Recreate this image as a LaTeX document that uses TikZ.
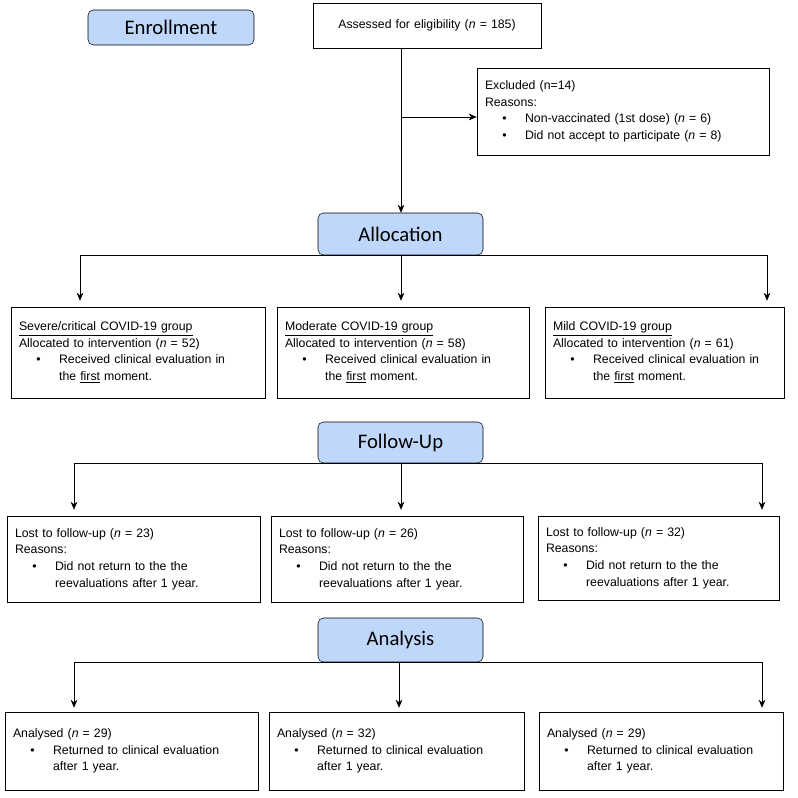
\documentclass[tikz,border=0pt]{standalone}
\usepackage{fontspec}
\setmainfont{Liberation Sans}
\newfontfamily\headfont{Carlito}
\usetikzlibrary{arrows.meta,positioning,calc}
\definecolor{headblue}{RGB}{190,215,250}
\newcommand{\bitem}[2]{\\\hspace*{13pt}\makebox[17pt][l]{\textbullet}#1\\\hspace*{30pt}#2}
\newcommand{\nn}{\textit{n}}
\begin{document}
\begin{tikzpicture}[
    x=0.0263cm, y=-0.0263cm,
    head/.style={rectangle, draw, rounded corners=4pt, fill=headblue, font=\headfont\fontsize{15.5}{17}\selectfont, minimum width=#1*0.0263cm, minimum height=40*0.0263cm},
    box/.style n args={2}{rectangle, draw, align=left, inner xsep=6pt, inner ysep=4pt, text width=#1*0.0263cm-12pt, minimum height=#2*0.0263cm, font=\fontsize{9.2}{12.4}\selectfont},
    arrow/.style={-{Stealth[length=6pt,width=5pt]}},
    line/.style={draw}
]
\useasboundingbox (0,0) rectangle (798,798);

% Enrollment
\node[head=166, minimum height=35*0.0263cm] (enroll) at (171,27.5) {Enrollment};
\node[box={228}{45}, align=center] (assess) at (427,25.5) {Assessed for eligibility (\nn{} = 185)};
\node[box={292}{87}] (excl) at (623,111.5) {Excluded (n=14)\\Reasons:\\\hspace*{13pt}\makebox[17pt][l]{\textbullet}Non-vaccinated (1st dose) (\nn{} = 6)\\\hspace*{13pt}\makebox[17pt][l]{\textbullet}Did not accept to participate (\nn{} = 8)};

% Allocation
\node[head=165, minimum height=42*0.0263cm] (alloc) at (400.5,234) {Allocation};
\node[box={254}{91}] (grp1) at (138,352.5) {\underline{Severe/critical COVID-19 group}\\Allocated to intervention (\nn{} = 52)\bitem{Received clinical evaluation in}{the \underline{first} moment.}};
\node[box={252}{91}] (grp2) at (403,352.5) {\underline{Moderate COVID-19 group}\\Allocated to intervention (\nn{} = 58)\bitem{Received clinical evaluation in}{the \underline{first} moment.}};
\node[box={239}{91}] (grp3) at (664.5,352.5) {\underline{Mild COVID-19 group}\\Allocated to intervention (\nn{} = 61)\bitem{Received clinical evaluation in}{the \underline{first} moment.}};

% Follow-up
\node[head=165, minimum height=41*0.0263cm] (follow) at (400.5,442.5) {Follow-Up};
\node[box={253}{86}] (lost1) at (133.5,559) {Lost to follow-up (\nn{} = 23)\\Reasons:\bitem{Did not return to the the}{reevaluations after 1 year.}};
\node[box={252}{86}] (lost2) at (397,559) {Lost to follow-up (\nn{} = 26)\\Reasons:\bitem{Did not return to the the}{reevaluations after 1 year.}};
\node[box={241}{84}] (lost3) at (658.5,558) {Lost to follow-up (\nn{} = 32)\\Reasons:\bitem{Did not return to the the}{reevaluations after 1 year.}};

% Analysis
\node[head=165, minimum height=44*0.0263cm] (analysis) at (400.5,640) {Analysis};
\node[box={253}{78}] (ana1) at (131.5,751) {Analysed (\nn{} = 29)\bitem{Returned to clinical evaluation}{after 1 year.}};
\node[box={255}{78}] (ana2) at (396.5,751) {Analysed (\nn{} = 32)\bitem{Returned to clinical evaluation}{after 1 year.}};
\node[box={244}{78}] (ana3) at (661,751) {Analysed (\nn{} = 29)\bitem{Returned to clinical evaluation}{after 1 year.}};

% branch points
\coordinate (ex) at (401,117);
\coordinate (al1) at (80,255);   \coordinate (al2) at (401,255);   \coordinate (al3) at (767,255);
\coordinate (fo1) at (74,463);   \coordinate (fo2) at (401,463);   \coordinate (fo3) at (762,463);
\coordinate (an1) at (74,662);   \coordinate (an2) at (399,662);   \coordinate (an3) at (762,662);

% Arrows
\draw[arrow] (assess.south -| ex) -- (alloc.north -| ex);
\draw[arrow] (ex) -- (excl.west |- ex);
\draw[line] (al1) -- (al3);
\draw[arrow] (al1) -- ($(al1 |- grp1.north)+(0,-6)$);
\draw[arrow] (al2) -- ($(al2 |- grp2.north)+(0,-6)$);
\draw[arrow] (al3) -- ($(al3 |- grp3.north)+(0,-6)$);
\draw[line] (fo1) -- (fo3);
\draw[arrow] (fo1) -- ($(fo1 |- lost1.north)+(0,-6)$);
\draw[arrow] (fo2) -- ($(fo2 |- lost2.north)+(0,-6)$);
\draw[arrow] (fo3) -- ($(fo3 |- lost3.north)+(0,-6)$);
\draw[line] (an1) -- (an3);
\draw[arrow] (an1) -- ($(an1 |- ana1.north)+(0,-4)$);
\draw[arrow] (an2) -- ($(an2 |- ana2.north)+(0,-4)$);
\draw[arrow] (an3) -- ($(an3 |- ana3.north)+(0,-4)$);
\end{tikzpicture}
\end{document}
